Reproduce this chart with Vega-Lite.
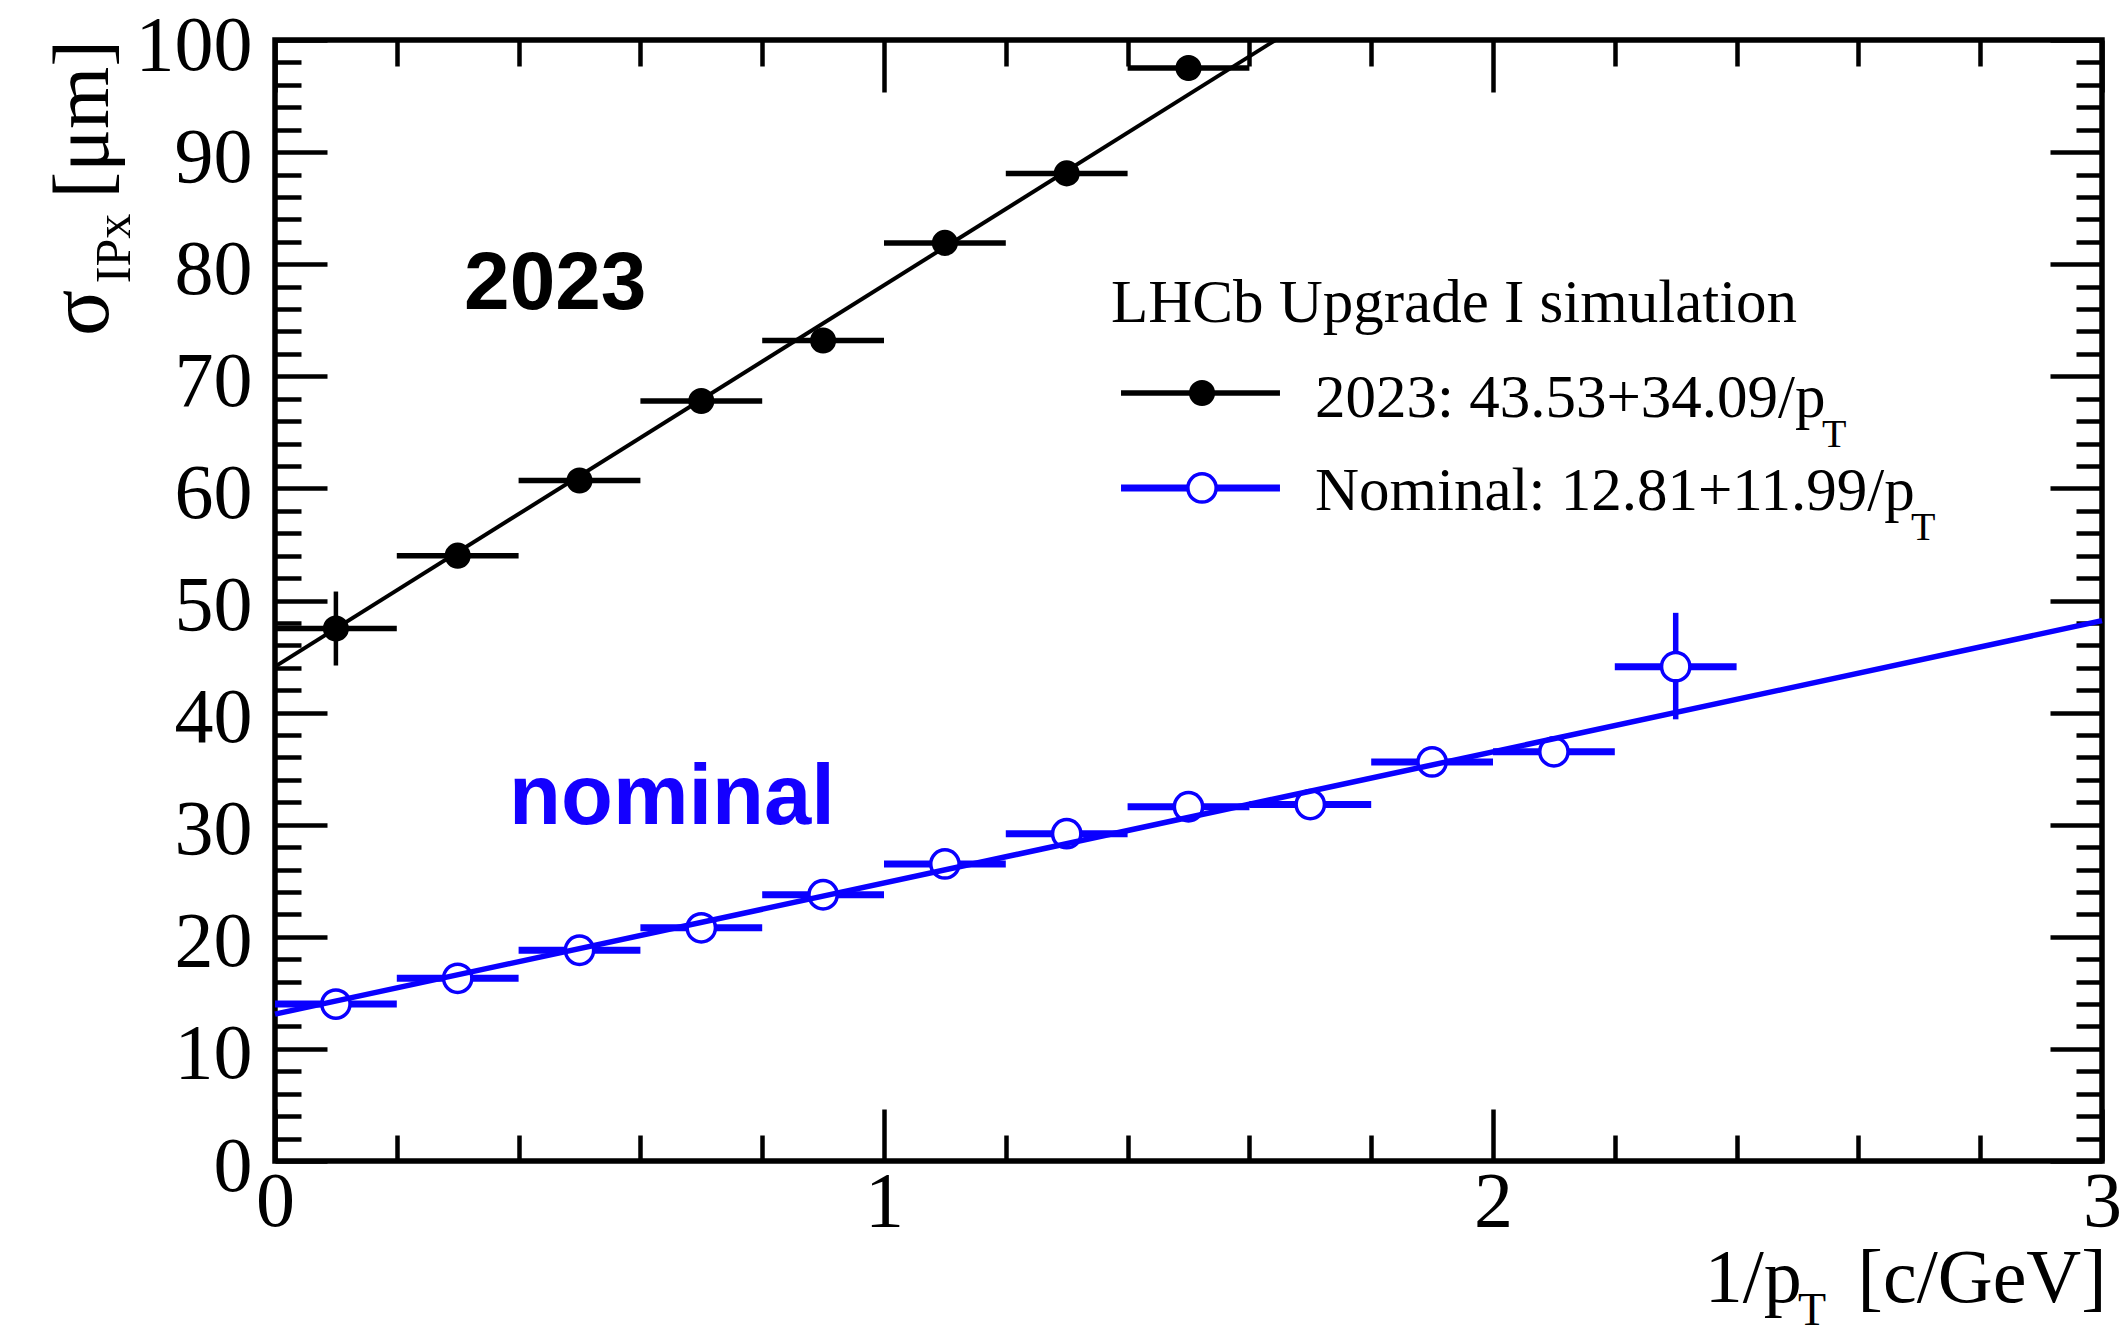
{
  "$schema": "https://vega.github.io/schema/vega-lite/v6.json",
  "width": 1827,
  "height": 1121,
  "autosize": {"type": "none"},
  "padding": {"left": 275, "top": 40, "right": 22, "bottom": 177},
  "background": "white",
  "config": {
    "view": {"stroke": "black", "strokeWidth": 5.5},
    "axis": {"grid": false, "title": null, "domain": false}
  },
  "resolve": {"axis": {"x": "independent", "y": "independent"}},
  "datasets": {
    "lhcb2023": [
      {"x": 0.1, "y": 47.5, "xlo": 0.0, "xhi": 0.2, "ylo": 44.2, "yhi": 50.8},
      {"x": 0.3, "y": 54.0, "xlo": 0.2, "xhi": 0.4, "ylo": 53.0, "yhi": 55.0},
      {"x": 0.5, "y": 60.7, "xlo": 0.4, "xhi": 0.6, "ylo": 59.7, "yhi": 61.7},
      {"x": 0.7, "y": 67.8, "xlo": 0.6, "xhi": 0.8, "ylo": 66.8, "yhi": 68.8},
      {"x": 0.9, "y": 73.2, "xlo": 0.8, "xhi": 1.0, "ylo": 72.2, "yhi": 74.2},
      {"x": 1.1, "y": 81.9, "xlo": 1.0, "xhi": 1.2, "ylo": 80.9, "yhi": 82.9},
      {"x": 1.3, "y": 88.1, "xlo": 1.2, "xhi": 1.4, "ylo": 87.1, "yhi": 89.1},
      {"x": 1.5, "y": 97.5, "xlo": 1.4, "xhi": 1.6, "ylo": 96.4, "yhi": 98.6}
    ],
    "nominal": [
      {"x": 0.1, "y": 14.0, "xlo": 0.0, "xhi": 0.2, "ylo": 13.4, "yhi": 14.6},
      {"x": 0.3, "y": 16.3, "xlo": 0.2, "xhi": 0.4, "ylo": 15.7, "yhi": 16.9},
      {"x": 0.5, "y": 18.8, "xlo": 0.4, "xhi": 0.6, "ylo": 18.2, "yhi": 19.4},
      {"x": 0.7, "y": 20.8, "xlo": 0.6, "xhi": 0.8, "ylo": 20.2, "yhi": 21.4},
      {"x": 0.9, "y": 23.75, "xlo": 0.8, "xhi": 1.0, "ylo": 23.1, "yhi": 24.4},
      {"x": 1.1, "y": 26.5, "xlo": 1.0, "xhi": 1.2, "ylo": 25.8, "yhi": 27.2},
      {"x": 1.3, "y": 29.2, "xlo": 1.2, "xhi": 1.4, "ylo": 28.4, "yhi": 30.0},
      {"x": 1.5, "y": 31.6, "xlo": 1.4, "xhi": 1.6, "ylo": 30.8, "yhi": 32.4},
      {"x": 1.7, "y": 31.8, "xlo": 1.6, "xhi": 1.8, "ylo": 30.9, "yhi": 32.7},
      {"x": 1.9, "y": 35.6, "xlo": 1.8, "xhi": 2.0, "ylo": 34.6, "yhi": 36.6},
      {"x": 2.1, "y": 36.5, "xlo": 2.0, "xhi": 2.2, "ylo": 35.4, "yhi": 37.6},
      {"x": 2.3, "y": 44.1, "xlo": 2.2, "xhi": 2.4, "ylo": 39.4, "yhi": 48.9}
    ],
    "fit2023": [
      {"x": 0.0, "y": 44.1},
      {"x": 1.643, "y": 100.0}
    ],
    "fitNominal": [
      {"x": 0.0, "y": 13.1},
      {"x": 3.0, "y": 48.2}
    ]
  },
  "layer": [
    {
      "data": {"name": "nominal"},
      "mark": {"type": "rule", "color": "#0a00ff", "strokeWidth": 7},
      "encoding": {
        "x": {"field": "xlo", "type": "quantitative", "scale": {"domain": [0, 3], "nice": false, "zero": false},
          "axis": {"orient": "bottom", "values": [0, 1, 2, 3], "ticks": false, "domain": false, "labels": true, "labelFont": "Liberation Serif", "labelFontSize": 78, "labelColor": "black", "labelPadding": 2, "labelFlush": false, "labelOverlap": false, "format": "d", "title": null}},
        "x2": {"field": "xhi"},
        "y": {"field": "y", "type": "quantitative", "scale": {"domain": [0, 100], "nice": false, "zero": false},
          "axis": {"orient": "left", "values": [0, 10, 20, 30, 40, 50, 60, 70, 80, 90, 100], "ticks": false, "domain": false, "labels": true, "labelFont": "Liberation Serif", "labelFontSize": 78, "labelColor": "black", "labelPadding": 23, "labelOffset": 6, "labelFlush": false, "labelOverlap": false, "format": "d", "title": null}}
      }
    },
    {
      "data": {"name": "nominal"},
      "mark": {"type": "rule", "color": "#0a00ff", "strokeWidth": 5.5},
      "encoding": {
        "x": {"field": "x", "type": "quantitative", "scale": {"domain": [0, 3], "nice": false, "zero": false},
          "axis": {"orient": "bottom", "values": [0, 1, 2, 3], "labels": false, "domain": false, "ticks": true, "tickSize": -52, "tickWidth": 4.5, "tickColor": "black", "title": null}},
        "y": {"field": "ylo", "type": "quantitative", "scale": {"domain": [0, 100], "nice": false, "zero": false},
          "axis": {"orient": "left", "values": [0, 10, 20, 30, 40, 50, 60, 70, 80, 90, 100], "labels": false, "domain": false, "ticks": true, "tickSize": -52, "tickWidth": 4.5, "tickColor": "black", "title": null}},
        "y2": {"field": "yhi"}
      }
    },
    {
      "data": {"name": "nominal"},
      "mark": {"type": "point", "shape": "circle", "filled": false, "fill": "white", "fillOpacity": 1, "stroke": "#0a00ff", "strokeWidth": 3.5, "size": 800, "opacity": 1},
      "encoding": {
        "x": {"field": "x", "type": "quantitative", "scale": {"domain": [0, 3], "nice": false, "zero": false},
          "axis": {"orient": "bottom", "values": [0.2, 0.4, 0.6, 0.8, 1.2, 1.4, 1.6, 1.8, 2.2, 2.4, 2.6, 2.8], "labels": false, "domain": false, "ticks": true, "tickSize": -26, "tickWidth": 4.5, "tickColor": "black", "title": null}},
        "y": {"field": "y", "type": "quantitative", "scale": {"domain": [0, 100], "nice": false, "zero": false},
          "axis": {"orient": "left", "values": [2, 4, 6, 8, 12, 14, 16, 18, 22, 24, 26, 28, 32, 34, 36, 38, 42, 44, 46, 48, 52, 54, 56, 58, 62, 64, 66, 68, 72, 74, 76, 78, 82, 84, 86, 88, 92, 94, 96, 98], "labels": false, "domain": false, "ticks": true, "tickSize": -26, "tickWidth": 4.5, "tickColor": "black", "title": null}}
      }
    },
    {
      "data": {"name": "fitNominal"},
      "mark": {"type": "line", "color": "#0a00ff", "strokeWidth": 5.5},
      "encoding": {
        "x": {"field": "x", "type": "quantitative", "scale": {"domain": [0, 3], "nice": false, "zero": false},
          "axis": {"orient": "top", "values": [0, 1, 2, 3], "labels": false, "domain": false, "ticks": true, "tickSize": -52, "tickWidth": 4.5, "tickColor": "black", "title": null}},
        "y": {"field": "y", "type": "quantitative", "scale": {"domain": [0, 100], "nice": false, "zero": false},
          "axis": {"orient": "right", "values": [0, 10, 20, 30, 40, 50, 60, 70, 80, 90, 100], "labels": false, "domain": false, "ticks": true, "tickSize": -52, "tickWidth": 4.5, "tickColor": "black", "title": null}}
      }
    },
    {
      "data": {"name": "lhcb2023"},
      "mark": {"type": "rule", "color": "black", "strokeWidth": 5.5},
      "encoding": {
        "x": {"field": "xlo", "type": "quantitative", "scale": {"domain": [0, 3], "nice": false, "zero": false},
          "axis": {"orient": "top", "values": [0.2, 0.4, 0.6, 0.8, 1.2, 1.4, 1.6, 1.8, 2.2, 2.4, 2.6, 2.8], "labels": false, "domain": false, "ticks": true, "tickSize": -26, "tickWidth": 4.5, "tickColor": "black", "title": null}},
        "x2": {"field": "xhi"},
        "y": {"field": "y", "type": "quantitative", "scale": {"domain": [0, 100], "nice": false, "zero": false},
          "axis": {"orient": "right", "values": [2, 4, 6, 8, 12, 14, 16, 18, 22, 24, 26, 28, 32, 34, 36, 38, 42, 44, 46, 48, 52, 54, 56, 58, 62, 64, 66, 68, 72, 74, 76, 78, 82, 84, 86, 88, 92, 94, 96, 98], "labels": false, "domain": false, "ticks": true, "tickSize": -26, "tickWidth": 4.5, "tickColor": "black", "title": null}}
      }
    },
    {
      "data": {"name": "lhcb2023"},
      "mark": {"type": "rule", "color": "black", "strokeWidth": 4.5},
      "encoding": {
        "x": {"field": "x", "type": "quantitative", "scale": {"domain": [0, 3], "nice": false, "zero": false}, "axis": null},
        "y": {"field": "ylo", "type": "quantitative", "scale": {"domain": [0, 100], "nice": false, "zero": false}, "axis": null},
        "y2": {"field": "yhi"}
      }
    },
    {
      "data": {"name": "lhcb2023"},
      "mark": {"type": "point", "shape": "circle", "filled": true, "color": "black", "size": 680, "opacity": 1},
      "encoding": {
        "x": {"field": "x", "type": "quantitative", "scale": {"domain": [0, 3], "nice": false, "zero": false}, "axis": null},
        "y": {"field": "y", "type": "quantitative", "scale": {"domain": [0, 100], "nice": false, "zero": false}, "axis": null}
      }
    },
    {
      "data": {"name": "fit2023"},
      "mark": {"type": "line", "color": "black", "strokeWidth": 4},
      "encoding": {
        "x": {"field": "x", "type": "quantitative", "scale": {"domain": [0, 3], "nice": false, "zero": false}, "axis": null},
        "y": {"field": "y", "type": "quantitative", "scale": {"domain": [0, 100], "nice": false, "zero": false}, "axis": null}
      }
    },
    {
      "data": {"values": [{}]},
      "mark": {"type": "text", "text": "2023", "font": "Liberation Sans", "fontWeight": "bold", "fontSize": 82, "color": "black", "align": "left", "baseline": "alphabetic"},
      "encoding": {
        "x": {"datum": 0.3104, "type": "quantitative", "scale": {"domain": [0, 3], "nice": false, "zero": false}, "axis": null},
        "y": {"datum": 76.0, "type": "quantitative", "scale": {"domain": [0, 100], "nice": false, "zero": false}, "axis": null}
      }
    },
    {
      "data": {"values": [{}]},
      "mark": {"type": "text", "text": "nominal", "font": "Liberation Sans", "fontWeight": "bold", "fontSize": 85, "color": "#1400ff", "align": "left", "baseline": "alphabetic"},
      "encoding": {
        "x": {"datum": 0.3843, "type": "quantitative", "scale": {"domain": [0, 3], "nice": false, "zero": false}, "axis": null},
        "y": {"datum": 30.06, "type": "quantitative", "scale": {"domain": [0, 100], "nice": false, "zero": false}, "axis": null}
      }
    },
    {
      "data": {"values": [{}]},
      "mark": {"type": "text", "text": "LHCb Upgrade I simulation", "font": "Liberation Serif", "fontSize": 61, "color": "black", "align": "left", "baseline": "alphabetic"},
      "encoding": {
        "x": {"datum": 1.3727, "type": "quantitative", "scale": {"domain": [0, 3], "nice": false, "zero": false}, "axis": null},
        "y": {"datum": 74.84, "type": "quantitative", "scale": {"domain": [0, 100], "nice": false, "zero": false}, "axis": null}
      }
    },
    {
      "data": {"values": [{}]},
      "mark": {"type": "rule", "color": "black", "strokeWidth": 5.5},
      "encoding": {
        "x": {"datum": 1.3892, "type": "quantitative", "scale": {"domain": [0, 3], "nice": false, "zero": false}, "axis": null},
        "x2": {"datum": 1.6502},
        "y": {"datum": 68.51, "type": "quantitative", "scale": {"domain": [0, 100], "nice": false, "zero": false}, "axis": null}
      }
    },
    {
      "data": {"values": [{}]},
      "mark": {"type": "point", "shape": "circle", "filled": true, "color": "black", "size": 680, "opacity": 1},
      "encoding": {
        "x": {"datum": 1.5222, "type": "quantitative", "scale": {"domain": [0, 3], "nice": false, "zero": false}, "axis": null},
        "y": {"datum": 68.51, "type": "quantitative", "scale": {"domain": [0, 100], "nice": false, "zero": false}, "axis": null}
      }
    },
    {
      "data": {"values": [{}]},
      "mark": {"type": "rule", "color": "#0a00ff", "strokeWidth": 7},
      "encoding": {
        "x": {"datum": 1.3892, "type": "quantitative", "scale": {"domain": [0, 3], "nice": false, "zero": false}, "axis": null},
        "x2": {"datum": 1.6502},
        "y": {"datum": 60.04, "type": "quantitative", "scale": {"domain": [0, 100], "nice": false, "zero": false}, "axis": null}
      }
    },
    {
      "data": {"values": [{}]},
      "mark": {"type": "point", "shape": "circle", "filled": false, "fill": "white", "fillOpacity": 1, "stroke": "#0a00ff", "strokeWidth": 3.5, "size": 800, "opacity": 1},
      "encoding": {
        "x": {"datum": 1.5222, "type": "quantitative", "scale": {"domain": [0, 3], "nice": false, "zero": false}, "axis": null},
        "y": {"datum": 60.04, "type": "quantitative", "scale": {"domain": [0, 100], "nice": false, "zero": false}, "axis": null}
      }
    },
    {
      "data": {"values": [{}]},
      "mark": {"type": "text", "text": "2023: 43.53+34.09/p", "font": "Liberation Serif", "fontSize": 61, "color": "black", "align": "left", "baseline": "alphabetic"},
      "encoding": {
        "x": {"datum": 1.7077, "type": "quantitative", "scale": {"domain": [0, 3], "nice": false, "zero": false}, "axis": null},
        "y": {"datum": 66.4, "type": "quantitative", "scale": {"domain": [0, 100], "nice": false, "zero": false}, "axis": null}
      }
    },
    {
      "data": {"values": [{}]},
      "mark": {"type": "text", "text": "T", "font": "Liberation Serif", "fontSize": 40, "color": "black", "align": "left", "baseline": "alphabetic"},
      "encoding": {
        "x": {"datum": 2.5402, "type": "quantitative", "scale": {"domain": [0, 3], "nice": false, "zero": false}, "axis": null},
        "y": {"datum": 63.69, "type": "quantitative", "scale": {"domain": [0, 100], "nice": false, "zero": false}, "axis": null}
      }
    },
    {
      "data": {"values": [{}]},
      "mark": {"type": "text", "text": "Nominal: 12.81+11.99/p", "font": "Liberation Serif", "fontSize": 61, "color": "black", "align": "left", "baseline": "alphabetic"},
      "encoding": {
        "x": {"datum": 1.7077, "type": "quantitative", "scale": {"domain": [0, 3], "nice": false, "zero": false}, "axis": null},
        "y": {"datum": 58.07, "type": "quantitative", "scale": {"domain": [0, 100], "nice": false, "zero": false}, "axis": null}
      }
    },
    {
      "data": {"values": [{}]},
      "mark": {"type": "text", "text": "T", "font": "Liberation Serif", "fontSize": 40, "color": "black", "align": "left", "baseline": "alphabetic"},
      "encoding": {
        "x": {"datum": 2.6864, "type": "quantitative", "scale": {"domain": [0, 3], "nice": false, "zero": false}, "axis": null},
        "y": {"datum": 55.4, "type": "quantitative", "scale": {"domain": [0, 100], "nice": false, "zero": false}, "axis": null}
      }
    },
    {
      "data": {"values": [{}]},
      "mark": {"type": "text", "text": "1/p", "font": "Liberation Serif", "fontSize": 76, "color": "black", "align": "left", "baseline": "alphabetic"},
      "encoding": {
        "x": {"datum": 2.3475, "type": "quantitative", "scale": {"domain": [0, 3], "nice": false, "zero": false}, "axis": null},
        "y": {"datum": -12.55, "type": "quantitative", "scale": {"domain": [0, 100], "nice": false, "zero": false}, "axis": null}
      }
    },
    {
      "data": {"values": [{}]},
      "mark": {"type": "text", "text": "T", "font": "Liberation Serif", "fontSize": 46, "color": "black", "align": "left", "baseline": "alphabetic"},
      "encoding": {
        "x": {"datum": 2.5008, "type": "quantitative", "scale": {"domain": [0, 3], "nice": false, "zero": false}, "axis": null},
        "y": {"datum": -14.6, "type": "quantitative", "scale": {"domain": [0, 100], "nice": false, "zero": false}, "axis": null}
      }
    },
    {
      "data": {"values": [{}]},
      "mark": {"type": "text", "text": "[c/GeV]", "font": "Liberation Serif", "fontSize": 76, "color": "black", "align": "right", "baseline": "alphabetic"},
      "encoding": {
        "x": {"datum": 3.0075, "type": "quantitative", "scale": {"domain": [0, 3], "nice": false, "zero": false}, "axis": null},
        "y": {"datum": -12.55, "type": "quantitative", "scale": {"domain": [0, 100], "nice": false, "zero": false}, "axis": null}
      }
    },
    {
      "data": {"values": [{}]},
      "mark": {"type": "text", "text": "σ", "font": "Liberation Serif", "fontSize": 86, "color": "black", "align": "left", "baseline": "alphabetic", "angle": 270},
      "encoding": {
        "x": {"datum": -0.2742, "type": "quantitative", "scale": {"domain": [0, 3], "nice": false, "zero": false}, "axis": null},
        "y": {"datum": 73.6, "type": "quantitative", "scale": {"domain": [0, 100], "nice": false, "zero": false}, "axis": null}
      }
    },
    {
      "data": {"values": [{}]},
      "mark": {"type": "text", "text": "IPx", "font": "Liberation Serif", "fontSize": 50, "color": "black", "align": "left", "baseline": "alphabetic", "angle": 270},
      "encoding": {
        "x": {"datum": -0.2381, "type": "quantitative", "scale": {"domain": [0, 3], "nice": false, "zero": false}, "axis": null},
        "y": {"datum": 78.3, "type": "quantitative", "scale": {"domain": [0, 100], "nice": false, "zero": false}, "axis": null}
      }
    },
    {
      "data": {"values": [{}]},
      "mark": {"type": "text", "text": "[μm]", "font": "Liberation Serif", "fontSize": 80, "color": "black", "align": "right", "baseline": "alphabetic", "angle": 270},
      "encoding": {
        "x": {"datum": -0.2742, "type": "quantitative", "scale": {"domain": [0, 3], "nice": false, "zero": false}, "axis": null},
        "y": {"datum": 100.0, "type": "quantitative", "scale": {"domain": [0, 100], "nice": false, "zero": false}, "axis": null}
      }
    }
  ]
}
